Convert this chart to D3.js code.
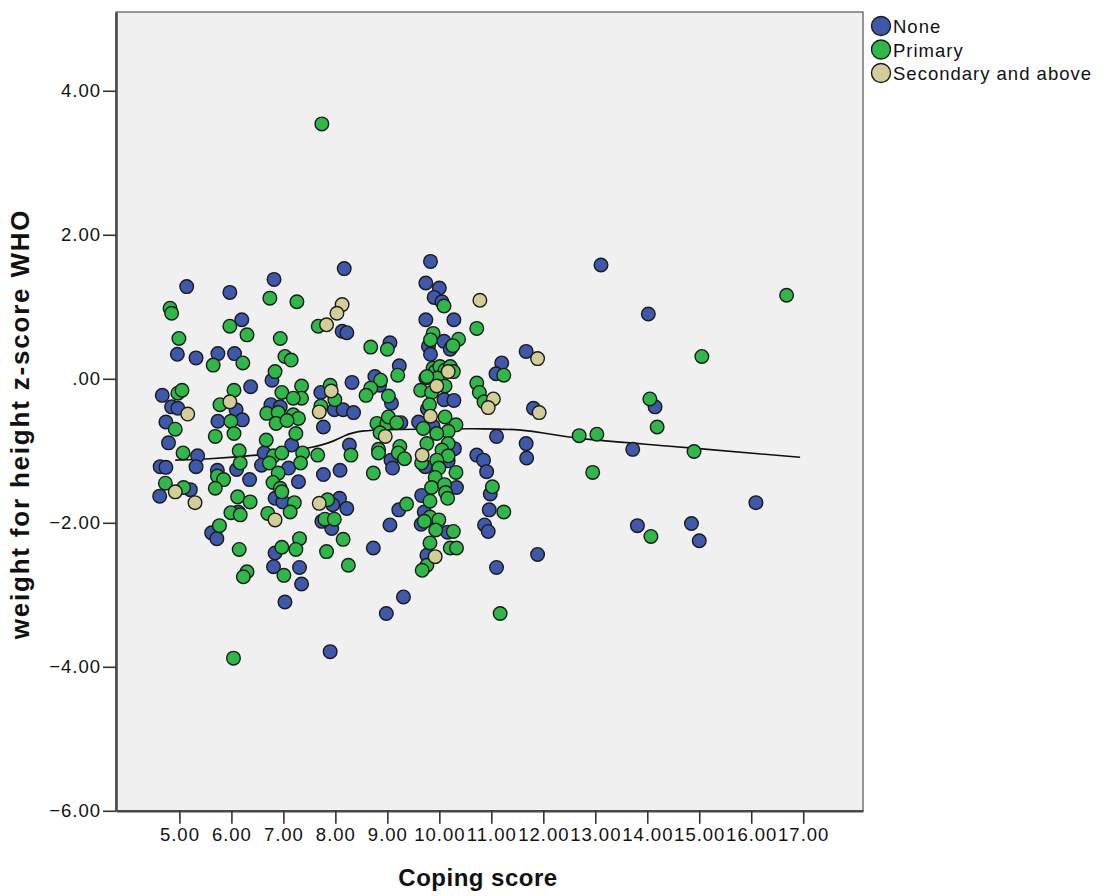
<!DOCTYPE html>
<html>
<head>
<meta charset="utf-8">
<script src="https://cdn.jsdelivr.net/npm/d3@7"></script>
<style>
  body { margin: 0; background: #fff; }
  text { font-family: "Liberation Sans", Arial, sans-serif; fill: #111; }
</style>
</head>
<body>
<svg id="chart" width="1098" height="896"></svg>
<script>
// coping score vs weight-for-height z-score, by mother's education
const none = [
  [5.14,1.28],[5.97,1.20],[6.82,1.38],[8.17,1.53],[8.13,0.66],[8.22,0.64],[6.20,0.82],[4.96,0.34],[5.32,0.29],
  [5.74,0.35],[6.06,0.35],[6.78,-0.02],[6.37,-0.11],[8.32,-0.05],[4.67,-0.23],[7.72,-0.19],[6.09,-0.43],[4.85,-0.39],
  [4.97,-0.41],[6.76,-0.36],[6.94,-0.39],[7.98,-0.43],[8.15,-0.43],[8.35,-0.47],[4.74,-0.60],[5.74,-0.59],[6.21,-0.57],
  [7.77,-0.67],[4.79,-0.89],[7.16,-0.92],[8.27,-0.92],
  [5.35,-1.07],[6.63,-1.03],[4.63,-1.22],[4.74,-1.23],[5.32,-1.22],[6.10,-1.26],[5.73,-1.27],[6.58,-1.20],[7.10,-1.24],
  [8.09,-1.27],[7.77,-1.33],[6.35,-1.40],[7.29,-1.43],[5.21,-1.54],[4.62,-1.63],[6.84,-1.66],[6.99,-1.71],[8.08,-1.66],
  [8.22,-1.80],[7.95,-1.75],[6.13,-1.85],[7.93,-2.08],[7.74,-1.98],[5.62,-2.14],[5.72,-2.22],[6.84,-2.42],[6.81,-2.61],
  [7.31,-2.62],[7.35,-2.85],[7.03,-3.10],[7.90,-3.79],
  [9.83,1.63],[9.74,1.33],[10.00,1.26],[9.90,1.13],[10.05,1.07],[9.74,0.82],[10.28,0.82],[10.09,0.52],[10.21,0.41],
  [9.79,0.45],[9.83,0.34],[9.05,0.50],[11.67,0.38],[11.20,0.22],[11.09,0.07],[9.23,0.18],[8.76,0.03],[8.85,-0.09],
  [9.08,-0.34],[9.74,0.01],[10.09,-0.29],[10.28,-0.30],[9.77,-0.42],[9.60,-0.60],[9.88,-0.66],[11.10,-0.80],[11.67,-0.90],
  [9.26,-0.61],
  [9.07,-1.13],[9.10,-1.24],[10.29,-0.97],[9.73,-1.22],[10.17,-1.14],[10.33,-1.51],[9.66,-1.62],[9.22,-1.82],[9.71,-1.85],
  [9.65,-2.02],[9.05,-2.03],[10.16,-2.13],[8.73,-2.35],[9.76,-2.45],[9.31,-3.03],[10.72,-1.06],[10.85,-1.13],[10.91,-1.29],
  [10.98,-1.60],[10.96,-1.82],[10.87,-2.03],[10.94,-2.12],
  [11.68,-1.10],[8.98,-3.26],[11.10,-2.62],
  [13.11,1.58],[14.02,0.90],[11.81,-0.41],[14.15,-0.39],[13.72,-0.98],[16.09,-1.72],[13.81,-2.04],[14.85,-2.01],
  [15.00,-2.25],[11.89,-2.44]
];
const primary = [
  [6.74,1.12],[7.26,1.07],[4.82,0.98],[4.85,0.91],[7.67,0.73],[5.97,0.73],[6.30,0.61],[6.94,0.56],[4.99,0.56],
  [5.65,0.19],[6.22,0.22],[7.03,0.31],[7.15,0.26],[6.84,0.10],[6.05,-0.16],[4.97,-0.20],[5.05,-0.16],[6.97,-0.19],
  [7.35,-0.10],[7.35,-0.27],[7.19,-0.27],[7.90,-0.09],[7.99,-0.29],[5.78,-0.36],[6.68,-0.48],[6.90,-0.47],[7.19,-0.50],
  [7.29,-0.55],[7.72,-0.38],[4.92,-0.70],[5.99,-0.59],[6.05,-0.76],[6.86,-0.62],[7.07,-0.58],[5.69,-0.80],[7.24,-0.76],
  [6.67,-0.85],
  [5.07,-1.03],[6.15,-1.00],[6.81,-1.07],[6.97,-1.03],[7.37,-1.03],[7.66,-1.06],[8.30,-1.06],[6.17,-1.17],[6.73,-1.17],
  [7.33,-1.17],[5.73,-1.35],[5.85,-1.40],[6.90,-1.31],[4.73,-1.45],[5.08,-1.51],[5.69,-1.52],[6.80,-1.44],[6.94,-1.52],
  [6.97,-1.57],[6.12,-1.64],[6.36,-1.71],[7.21,-1.72],[7.13,-1.85],[7.85,-1.68],[5.99,-1.86],[6.17,-1.89],[6.70,-1.87],
  [7.80,-1.95],[7.98,-1.95],[5.77,-2.04],[8.15,-2.23],[7.31,-2.22],[6.15,-2.37],[6.97,-2.34],[7.24,-2.37],[7.83,-2.40],
  [8.25,-2.59],[6.30,-2.68],[6.23,-2.75],[7.01,-2.73],[6.04,-3.88],
  [10.09,1.01],[10.72,0.70],[9.88,0.63],[9.83,0.54],[10.37,0.55],[10.26,0.46],[9.00,0.41],[8.68,0.44],[11.24,0.05],
  [9.20,0.05],[8.87,-0.02],[8.68,-0.13],[8.59,-0.23],[9.02,-0.24],[9.88,0.15],[9.92,0.10],[10.01,0.17],[10.11,0.12],
  [10.21,0.17],[10.27,0.10],[9.96,0.01],[9.76,0.03],[9.64,-0.16],[9.85,-0.19],[10.11,-0.10],[9.81,-0.36],[10.11,-0.53],
  [9.69,-0.69],[10.32,-0.64],[10.17,-0.73],[9.95,-0.76],[10.72,-0.06],[10.77,-0.19],[10.86,-0.32],[8.80,-0.62],[8.99,-0.62],
  [9.02,-0.53],[9.18,-0.61],[8.86,-0.75],[9.24,-0.94],[8.83,-0.98],[9.76,-0.90],[10.17,-0.90],
  [8.83,-1.03],[9.21,-1.03],[9.33,-1.11],[8.73,-1.31],[10.05,-0.99],[10.17,-1.07],[9.66,-1.17],[9.95,-1.13],[9.99,-1.24],
  [10.32,-1.30],[9.92,-1.37],[9.85,-1.51],[10.10,-1.47],[10.12,-1.58],[9.82,-1.70],[10.16,-1.66],[9.37,-1.74],[9.82,-1.92],
  [9.99,-1.96],[9.71,-1.98],[9.93,-2.10],[10.27,-2.12],[9.82,-2.28],[10.21,-2.35],[10.33,-2.35],[9.76,-2.59],[9.67,-2.66],
  [11.02,-1.50],[11.24,-1.85],[11.17,-3.26],
  [16.68,1.16],[15.05,0.31],[14.05,-0.28],[14.19,-0.67],[12.69,-0.79],[13.03,-0.77],[14.90,-1.01],[12.95,-1.30],
  [14.07,-2.19],[7.74,3.54]
];
const secondary = [
  [8.13,1.03],[8.03,0.91],[7.83,0.75],[7.92,-0.17],[5.97,-0.32],[5.16,-0.49],[7.69,-0.46],
  [4.92,-1.57],[5.30,-1.72],[7.69,-1.73],[6.84,-1.96],
  [10.78,1.09],[10.17,0.10],[9.95,-0.10],[9.83,-0.52],[11.04,-0.28],[10.94,-0.40],[8.96,-0.80],
  [9.67,-1.06],[9.92,-2.47],[11.89,0.28],[11.92,-0.47]
];
// smoothed (loess) fit line
const fitLine = [
  [4.92,-1.13],[5.5,-1.12],[6.55,-1.06],[7.2,-1.00],[7.51,-0.96],[7.9,-0.89],[8.15,-0.80],[8.42,-0.71],
  [9.5,-0.70],[10.98,-0.69],[11.61,-0.71],[12.0,-0.75],[12.58,-0.83],[14.19,-0.92],[16.94,-1.09]
];
const groupNames = ['None', 'Primary', 'Secondary and above'];
const groupColors = ['#3E58AC', '#2EB848', '#D3CE97'];
const xTicks = [5, 6, 7, 8, 9, 10, 11, 12, 13, 14, 15, 16, 17];
const yTicks = [-6, -4, -2, 0, 2, 4];

var plotLeft = 116, plotRight = 863, plotTop = 12, plotBottom = 810.8;

var svg = d3.select('#chart');

var x = d3.scaleLinear().domain([3.78, 18.15]).range([plotLeft, plotRight]);
var y = d3.scaleLinear().domain([-6, 5.094]).range([plotBottom, plotTop]);

svg.append('rect')
  .attr('x', plotLeft)
  .attr('y', plotTop)
  .attr('width', plotRight - plotLeft)
  .attr('height', plotBottom - plotTop)
  .attr('fill', '#f0f0f0')
  .attr('stroke', '#333')
  .attr('stroke-width', 1);

function yFmt(d) {
  return d3.format('.2f')(d).replace(/^(-?)0\./, '$1.');
}

var xAxis = svg.append('g')
  .attr('transform', 'translate(0,' + plotBottom + ')')
  .call(d3.axisBottom(x).tickValues(xTicks).tickFormat(d3.format('.2f'))
    .tickSize(13).tickPadding(4).tickSizeOuter(0));

var yAxis = svg.append('g')
  .attr('transform', 'translate(' + plotLeft + ',0)')
  .call(d3.axisLeft(y).tickValues(yTicks).tickFormat(yFmt)
    .tickSize(13).tickPadding(2).tickSizeOuter(0));

[xAxis, yAxis].forEach(function(g) {
  g.select('.domain').attr('stroke', '#4a4a4a').attr('stroke-width', 2.6);
  g.selectAll('.tick line').attr('stroke', '#333').attr('stroke-width', 1.6);
  g.selectAll('.tick text')
    .attr('fill', '#111')
    .style('font-size', '18.5px')
    .style('letter-spacing', '1px')
    .style('font-family', '"Liberation Sans", Arial, sans-serif');
});

// fit line
svg.append('path')
  .datum(fitLine)
  .attr('fill', 'none')
  .attr('stroke', '#111')
  .attr('stroke-width', 1.6)
  .attr('d', d3.line()
    .x(function(d) { return x(d[0]); })
    .y(function(d) { return y(d[1]); })
    .curve(d3.curveBasis));

var series = [none, primary, secondary];
series.forEach(function(pts, i) {
  svg.append('g').selectAll('circle')
    .data(pts)
    .enter()
    .append('circle')
    .attr('cx', function(d) { return x(d[0]); })
    .attr('cy', function(d) { return y(d[1]); })
    .attr('r', 6.8)
    .attr('fill', groupColors[i])
    .attr('stroke', '#1b1b1b')
    .attr('stroke-width', 1.4);
});

// axis titles
svg.append('text')
  .attr('x', 478)
  .attr('y', 886)
  .attr('text-anchor', 'middle')
  .style('font-size', '24px')
  .style('font-weight', 'bold')
  .style('letter-spacing', '0.5px')
  .text('Coping score');

svg.append('text')
  .attr('transform', 'translate(29,424) rotate(-90)')
  .attr('text-anchor', 'middle')
  .style('font-size', '26px')
  .style('font-weight', 'bold')
  .style('letter-spacing', '1.8px')
  .text('weight for height z-score WHO');

// legend
var legend = svg.append('g');
groupNames.forEach(function(name, i) {
  var cy = 26 + i * 23.5;
  legend.append('circle')
    .attr('cx', 881)
    .attr('cy', cy)
    .attr('r', 9.5)
    .attr('fill', groupColors[i])
    .attr('stroke', '#1b1b1b')
    .attr('stroke-width', 1.4);
  legend.append('text')
    .attr('x', 893)
    .attr('y', cy + 7)
    .style('font-size', '18.5px')
    .style('letter-spacing', '1px')
    .text(name);
});
</script>
</body>
</html>
